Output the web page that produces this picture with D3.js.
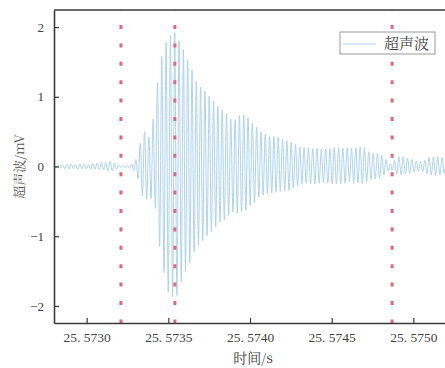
<!DOCTYPE html>
<html>
<head>
<meta charset="utf-8">
<script src="https://cdn.jsdelivr.net/npm/d3@7"></script>
<style>
  html, body { margin: 0; padding: 0; background: #fff; }
  svg { display: block; }
</style>
</head>
<body>
<svg id="chart" width="445" height="368"></svg>
<script>
// ---- data ----
const timeStart = 25.5728;          // time of first extremum (s)
const halfPeriod = 0.0000132;       // spacing between successive extrema (s)
const signal = [
  0.01,-0.01,0.02,-0.02,0.025,-0.03,0.03,-0.035,0.04,-0.03,
  0.03,-0.04,0.035,-0.03,0.04,-0.035,0.03,-0.04,0.045,-0.04,
  0.05,-0.045,0.055,-0.05,0.06,-0.065,0.07,-0.06,0.05,-0.035,
  0.02,-0.015,0.015,-0.02,0.02,-0.025,0.035,-0.06,0.1,-0.18,
  0.33,-0.42,0.5,-0.47,0.42,-0.46,0.68,-0.6,1.2,-1.15,
  1.58,-1.52,1.78,-1.8,1.88,-1.87,1.92,-1.85,1.8,-1.65,
  1.68,-1.5,1.53,-1.38,1.38,-1.22,1.22,-1.13,1.14,-1.06,
  1.08,-0.99,1.01,-0.94,0.94,-0.87,0.86,-0.8,0.81,-0.77,
  0.76,-0.7,0.68,-0.65,0.67,-0.67,0.73,-0.65,0.74,-0.63,
  0.7,-0.56,0.63,-0.52,0.56,-0.44,0.5,-0.41,0.46,-0.39,
  0.43,-0.38,0.43,-0.37,0.42,-0.36,0.39,-0.35,0.37,-0.34,
  0.35,-0.31,0.32,-0.28,0.28,-0.25,0.27,-0.24,0.27,-0.25,
  0.26,-0.25,0.26,-0.24,0.25,-0.23,0.25,-0.24,0.26,-0.25,
  0.27,-0.25,0.27,-0.25,0.26,-0.24,0.27,-0.22,0.26,-0.24,
  0.27,-0.23,0.28,-0.25,0.27,-0.22,0.21,-0.19,0.19,-0.18,
  0.19,-0.17,0.16,-0.12,0.1,-0.07,0.04,-0.05,0.09,-0.11,
  0.14,-0.12,0.14,-0.11,0.12,-0.1,0.1,-0.08,0.08,-0.07,
  0.07,-0.07,0.09,-0.1,0.13,-0.12,0.14,-0.13,0.14,-0.12,
  0.13,-0.1,0.11,-0.1
];
const markerTimes = [25.57321, 25.57354, 25.57487];
const xTicks = [25.5730, 25.5735, 25.5740, 25.5745, 25.5750];
const xTickLabels = ["25. 5730", "25. 5735", "25. 5740", "25. 5745", "25. 5750"];
const yTicks = [-2, -1, 0, 1, 2];
const yTickLabels = ["\u22122", "\u22121", "0", "1", "2"];
const seriesName = "超声波";
const xTitle = "时间/s";
const yTitle = "超声波/mV";

(function () {
// ---- layout ----
const svg = d3.select("#chart");
const pL = 54, pR = 446, pT = 10, pB = 323;
const x = d3.scaleLinear().domain([25.5728, 25.5752]).range([pL, pR]);
const y = d3.scaleLinear().domain([-2.245, 2.245]).range([pB, pT]);

const numFont = "'Liberation Serif','DejaVu Serif',serif";
const cjkFont = "'Noto Serif CJK SC','Noto Sans CJK SC',serif";
const axisColor = "#3a3a3a";

svg.append("defs").append("clipPath").attr("id", "clip")
  .append("rect").attr("x", pL).attr("y", pT).attr("width", pR - pL).attr("height", pB - pT);

// signal
const pts = signal.map((v, i) => [timeStart + i * halfPeriod, v]);
svg.append("path")
  .attr("clip-path", "url(#clip)")
  .attr("d", d3.line().x(d => x(d[0])).y(d => y(d[1])).curve(d3.curveMonotoneX)(pts))
  .attr("fill", "none")
  .attr("stroke", "#aed3ef")
  .attr("stroke-width", 1);

// marker lines
svg.append("g").selectAll("line").data(markerTimes).join("line")
  .attr("x1", d => x(d)).attr("x2", d => x(d))
  .attr("y1", pT).attr("y2", pB)
  .attr("stroke", "#e2677b")
  .attr("stroke-width", 3)
  .attr("stroke-dasharray", "4,14.4")
  .attr("stroke-dashoffset", 3.4);

// axes
const xAxis = d3.axisBottom(x).tickValues(xTicks)
  .tickFormat((d, i) => xTickLabels[i]).tickSizeInner(-5).tickSizeOuter(0).tickPadding(9);
const gx = svg.append("g").attr("transform", `translate(0,${pB})`).call(xAxis);
gx.select(".domain").attr("stroke", axisColor).attr("stroke-width", 1.6);
gx.selectAll(".tick line").attr("stroke", axisColor).attr("stroke-width", 1.2);
gx.selectAll(".tick text").attr("font-family", numFont).attr("font-size", 13.5).attr("fill", "#444");

const yAxis = d3.axisLeft(y).tickValues(yTicks)
  .tickFormat((d, i) => yTickLabels[i]).tickSizeInner(-5).tickSizeOuter(0).tickPadding(10);
const gy = svg.append("g").attr("transform", `translate(${pL},0)`).call(yAxis);
gy.select(".domain").attr("stroke", axisColor).attr("stroke-width", 1.6);
gy.selectAll(".tick line").attr("stroke", axisColor).attr("stroke-width", 1.2);
gy.selectAll(".tick text").attr("font-family", numFont).attr("font-size", 13).attr("fill", "#444");

// top frame
svg.append("line").attr("x1", pL).attr("x2", pR).attr("y1", pT).attr("y2", pT)
  .attr("stroke", axisColor).attr("stroke-width", 1.6);

// titles
svg.append("text").attr("x", (pL + pR) / 2 + 3).attr("y", 363)
  .attr("text-anchor", "middle").attr("font-family", cjkFont).attr("font-size", 14).attr("fill", "#444")
  .text(xTitle);
svg.append("text").attr("transform", `translate(24,${y(0)}) rotate(-90)`)
  .attr("text-anchor", "middle").attr("font-family", cjkFont).attr("font-size", 13).attr("fill", "#555")
  .text(yTitle);

// legend
const lg = svg.append("g");
lg.append("rect").attr("x", 340).attr("y", 32).attr("width", 95).attr("height", 22)
  .attr("fill", "#fff").attr("stroke", "#999").attr("stroke-width", 1);
lg.append("line").attr("x1", 343).attr("x2", 376).attr("y1", 44).attr("y2", 44)
  .attr("stroke", "#aed3ef").attr("stroke-width", 1.2);
lg.append("text").attr("x", 384).attr("y", 49).attr("font-family", cjkFont).attr("font-size", 15)
  .attr("fill", "#444").text(seriesName);
})();
</script>
</body>
</html>
